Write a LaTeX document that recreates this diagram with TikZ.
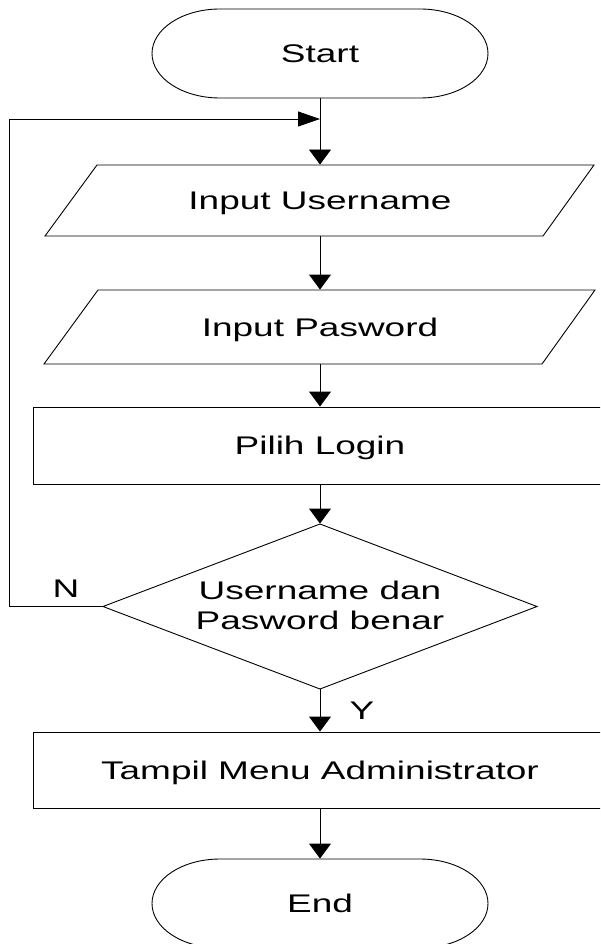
\documentclass[tikz,border=0pt]{standalone}
\usepackage{fontspec}
\setmainfont{Liberation Sans}
\usetikzlibrary{arrows.meta}
\newcommand{\hstr}[1]{\scalebox{1.45}[1]{#1}}
\tikzset{
  shp/.style 2 args={draw=none, minimum width=#1, minimum height=#2, inner sep=0pt,
    font=\fontsize{25.5}{30}\selectfont, text height=18.3pt, text depth=0pt},
  varr/.style={-{Triangle[length=15pt,width=22pt]}},
  harr/.style={-{Triangle[length=22pt,width=15pt]}},
  lbl/.style={inner sep=0pt, font=\fontsize{25.5}{30}\selectfont, text height=18.3pt, text depth=0pt}
}
\begin{document}
\begin{tikzpicture}[x=1pt,y=-1pt,line width=0.9pt]
\useasboundingbox (0,0) rectangle (600,944);
\clip (0,0) rectangle (600,944);
\fill[white] (0,0) rectangle (600,944);
% shapes
\draw (220,9) -- (420,9) arc[start angle=-90,end angle=90,x radius=68,y radius=44.5]
      -- (220,98) arc[start angle=90,end angle=270,x radius=68,y radius=44.5] -- cycle;
\draw (97,165) -- (594,165) -- (543,236) -- (45,236) -- cycle;
\draw (98,290) -- (595,290) -- (542,364) -- (44,364) -- cycle;
\draw (33,407) rectangle (607,484);
\draw (320,524) -- (537,606.5) -- (320,689) -- (103,606.5) -- cycle;
\draw (33,732) rectangle (607,808);
\draw (220,859) -- (420,859) arc[start angle=-90,end angle=90,x radius=68,y radius=44.5]
      -- (220,948) arc[start angle=90,end angle=270,x radius=68,y radius=44.5] -- cycle;
% nodes
\node[shp={336pt}{89pt}] (start) at (320,53.5) {\hstr{Start}};
\node[shp={450pt}{71pt}] (in1) at (320,200.5) {\hstr{Input Username}};
\node[shp={450pt}{74pt}] (in2) at (320,327) {\hstr{Input Pasword}};
\node[shp={574pt}{77pt}] (login) at (320,445.5) {\hstr{Pilih Login}};
\node[draw=none, minimum width=434pt, minimum height=165pt, inner sep=0pt] (dec) at (320,606.5) {};
\node[align=center, inner sep=0pt, font=\fontsize{25.5}{30}\selectfont] (dect) at (320,605.5)
  {\hstr{Username dan}\\\hstr{Pasword benar}};
\node[shp={574pt}{76pt}] (tampil) at (320,770) {\hstr{Tampil Menu Administrator}};
\node[shp={336pt}{89pt}] (end) at (320,903.5) {\hstr{End}};
\node[lbl] (nlab) at (66,588) {\hstr{N}};
\node[lbl] (ylab) at (362,710) {\hstr{Y}};
% connectors
\coordinate (j) at (320,119);
\coordinate (lc) at (9,119);
\draw[varr] (start.south) -- (in1.north);
\draw[varr] (in1.south) -- (in2.north);
\draw[varr] (in2.south) -- (login.north);
\draw[varr] (login.south) -- (dec.north);
\draw[varr] (dec.south) -- (tampil.north);
\draw[varr] (tampil.south) -- (end.north);
\draw[harr] (dec.west) -| (lc) -- (j);
\end{tikzpicture}
\end{document}
